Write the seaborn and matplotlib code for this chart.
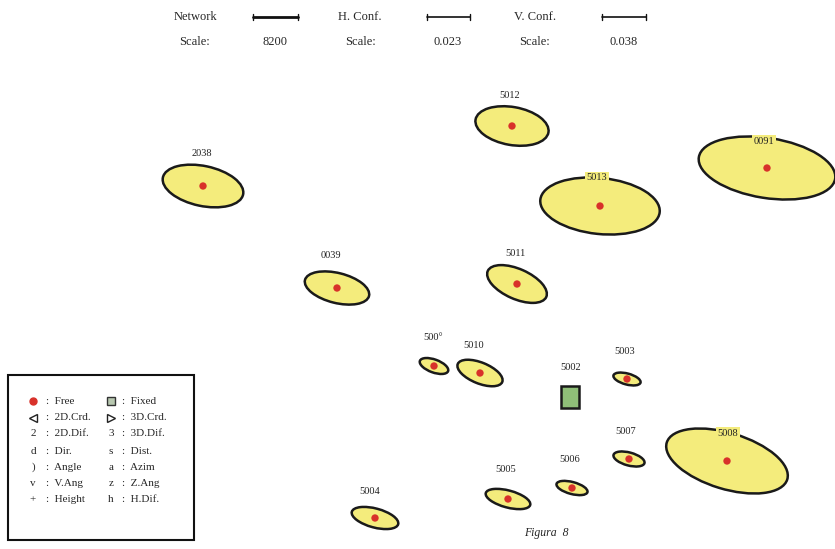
import matplotlib
matplotlib.use("Agg")
import matplotlib.pyplot as plt
from matplotlib.patches import Ellipse, Rectangle
import seaborn as sns
import pandas as pd

sns.set_style("white")
plt.rcParams['font.family'] = ['Liberation Serif', 'DejaVu Serif']

# Station data (image-pixel coordinates, y downward)
names   = ["5012", "2038", "0091", "5013", "0039", "5011", "500°", "5010",
           "5003", "5007", "5008", "5006", "5005", "5004"]
cx      = [512, 203, 767, 600, 337, 517, 434, 480, 627, 629, 727, 572, 508, 375]
cy      = [126, 186, 168, 206, 288, 284, 366, 373, 379, 459, 461, 488, 499, 518]
ell_w   = [74, 82, 138, 120, 66, 64, 30, 48, 28, 32, 126, 32, 46, 48]
ell_h   = [38, 40, 60, 56, 30, 30, 13, 21, 11, 13, 56, 12, 17, 19]
ell_ang = [10, 12, 9, 6, 14, 24, 20, 22, 15, 15, 17, 15, 15, 15]
lab_x   = [510, 202, 764, 597, 331, 515, 433, 474, 625, 626, 728, 570, 506, 370]
lab_y   = [95, 153, 141, 178, 256, 254, 338, 346, 351, 432, 433, 460, 470, 491]
on_edge = ["0091", "5013", "5008"]

fixed_name = "5002"
fixed_xy = (570, 397)
fixed_lab = (571, 367)

fig = plt.figure(figsize=(8.35, 5.49), dpi=100)
ax = fig.add_axes([0, 0, 1, 1])

for x, y, w, h, a in zip(cx, cy, ell_w, ell_h, ell_ang):
    ax.add_patch(Ellipse((x, y), w, h, angle=a, facecolor="#f4ec7c",
                         edgecolor="#1a1a1a", linewidth=1.8, zorder=2))

df = pd.DataFrame({"x": cx, "y": cy})
sns.scatterplot(data=df, x="x", y="y", ax=ax, color="#d8312a", s=28,
                edgecolor="none", zorder=3, legend=False)
ax.set_xlim(0, 835)
ax.set_ylim(549, 0)
ax.axis("off")

for n, lx, ly in zip(names, lab_x, lab_y):
    kw = {}
    if n in on_edge:
        kw["bbox"] = dict(boxstyle="square,pad=0.15", facecolor="#f4ec7c", edgecolor="none")
    ax.text(lx, ly, n, ha="center", va="center", fontsize=7.5, color="#222222",
            zorder=4, **kw)

# fixed station
ax.add_patch(Rectangle((fixed_xy[0] - 9, fixed_xy[1] - 11), 18, 22,
                       facecolor="#8fbf78", edgecolor="#1a1a1a", linewidth=1.8, zorder=2))
ax.text(fixed_lab[0], fixed_lab[1], fixed_name, ha="center", va="center",
        fontsize=7.5, color="#222222")

# Header
hdr_fs = 9
ax.text(195, 17, "Network", ha="center", va="center", fontsize=hdr_fs)
ax.text(195, 42, "Scale:", ha="center", va="center", fontsize=hdr_fs)
ax.text(275, 42, "8200", ha="center", va="center", fontsize=hdr_fs)
ax.text(360, 17, "H. Conf.", ha="center", va="center", fontsize=hdr_fs)
ax.text(360, 42, "Scale:", ha="center", va="center", fontsize=hdr_fs)
ax.text(448, 42, "0.023", ha="center", va="center", fontsize=hdr_fs)
ax.text(535, 17, "V. Conf.", ha="center", va="center", fontsize=hdr_fs)
ax.text(535, 42, "Scale:", ha="center", va="center", fontsize=hdr_fs)
ax.text(624, 42, "0.038", ha="center", va="center", fontsize=hdr_fs)
for x0, x1, lw in [(253, 298, 2.0), (427, 470, 1.2), (602, 646, 1.2)]:
    ax.plot([x0, x1], [17, 17], color="#111111", lw=lw)
    ax.plot([x0, x0], [14, 20], color="#111111", lw=1.0)
    ax.plot([x1, x1], [14, 20], color="#111111", lw=1.0)

# Legend box
ax.add_patch(Rectangle((8, 375), 186, 165, facecolor="none",
                       edgecolor="#111111", linewidth=1.5))
rows_y = [401, 418, 434, 451, 467, 484, 500]
left_sym = ["●", "<", "2", "d", ")", "v", "+"]
left_txt = ["Free", "2D.Crd.", "2D.Dif.", "Dir.", "Angle", "V.Ang", "Height"]
right_sym = ["■", ">", "3", "s", "a", "z", "h"]
right_txt = ["Fixed", "3D.Crd.", "3D.Dif.", "Dist.", "Azim", "Z.Ang", "H.Dif."]
lfs = 8
for i, y in enumerate(rows_y):
    if i == 0:
        ax.plot(33, y, "o", color="#d8312a", ms=5)
        ax.plot(111, y, "s", mfc="#b8c8b0", mec="#333333", ms=6)
    elif i == 1:
        ax.plot(33, y, "<", mfc="none", mec="#222222", ms=6)
        ax.plot(111, y, ">", mfc="none", mec="#222222", ms=6)
    else:
        ax.text(33, y, left_sym[i], ha="center", va="center", fontsize=lfs)
        ax.text(111, y, right_sym[i], ha="center", va="center", fontsize=lfs)
    ax.text(46, y, ":  " + left_txt[i], ha="left", va="center", fontsize=lfs)
    ax.text(122, y, ":  " + right_txt[i], ha="left", va="center", fontsize=lfs)

ax.text(546, 533, "Figura  8", ha="center", va="center", fontsize=8.5, style="italic")

fig.savefig("out.png", dpi=100)
